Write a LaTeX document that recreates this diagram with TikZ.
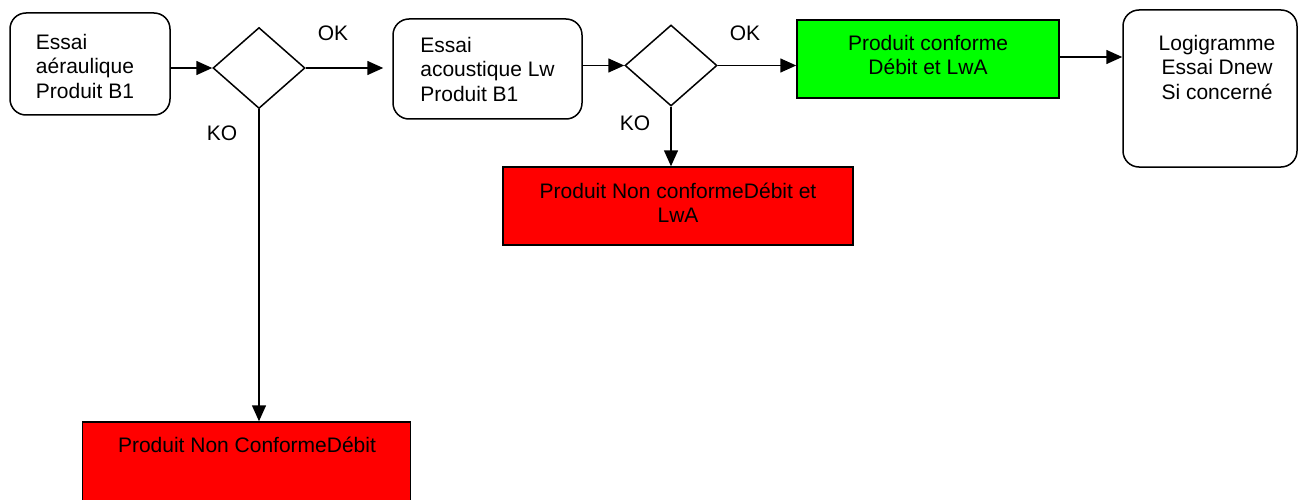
\documentclass[tikz,border=0pt]{standalone}
\usepackage{fontspec}
\setmainfont{Liberation Sans}
\usetikzlibrary{shapes.geometric,arrows.meta}
\begin{document}
\begin{tikzpicture}[x=1pt,y=-1pt,
  font=\fontsize{21}{24.5}\selectfont,
  line width=1.5pt,
  rbox/.style={draw, rounded corners=16pt, inner sep=0pt},
  sbox/.style={draw, inner sep=0pt},
  dec/.style={draw, diamond, inner sep=0pt, minimum width=92pt, minimum height=81pt},
  arr/.style={-{Triangle[length=16pt,width=14pt]}},
  lbl/.style={inner sep=0pt}
]
\useasboundingbox (0,0) rectangle (1298,500);
% boxes
\node[rbox, minimum width=160pt, minimum height=102pt] (b1) at (90,64) {};
\node[lbl, align=left] (b1t) at (85,66) {Essai\\aéraulique\\Produit B1};
\node[dec] (d1) at (259,68) {};
\node[rbox, minimum width=189pt, minimum height=100pt, align=left] (b2) at (487.5,69) {Essai\\acoustique Lw\\Produit B1};
\node[dec] (d2) at (671,65.5) {};
\node[sbox, fill={rgb,255:red,0;green,255;blue,0}, minimum width=262pt, minimum height=78pt, align=center] (g) at (928,59) {};
\node[lbl, align=center] (gt) at (928,55) {Produit conforme\\Débit et LwA};
\node[rbox, minimum width=174pt, minimum height=157pt] (b3) at (1210,88.5) {};
\node[lbl, align=center] (b3t) at (1217,67) {Logigramme\\Essai Dnew\\Si concerné};
\node[sbox, fill={rgb,255:red,255;green,0;blue,0}, minimum width=350pt, minimum height=78pt] (r2) at (678,206) {};
\node[lbl, align=center] (r2t) at (678,203) {Produit Non conformeDébit et\\LwA};
\node[sbox, fill={rgb,255:red,255;green,0;blue,0}, minimum width=328pt, minimum height=100pt] (r1) at (246.5,472) {};
\node[lbl] (r1t) at (247,445) {Produit Non ConformeDébit};
% labels
\node[lbl] (ok1) at (333,33) {OK};
\node[lbl] (ko1) at (222,133) {KO};
\node[lbl] (ok2) at (745,33) {OK};
\node[lbl] (ko2) at (635,123) {KO};
% connectors
\draw[arr] (b1.east |- d1.west) -- (d1.west);
\draw[arr, shorten >=9pt] (d1.east) -- (d1.east -| b2.west);
\draw[arr] (d1.south) -- (d1.south |- r1.north);
\draw[arr] (b2.east |- d2.west) -- (d2.west);
\draw[arr] (d2.east) -- (d2.east -| g.west);
\draw[arr] (d2.south) -- (d2.south |- r2.north);
\draw[arr] (g.east |- 0,57) -- (b3.west |- 0,57);
\end{tikzpicture}
\end{document}
